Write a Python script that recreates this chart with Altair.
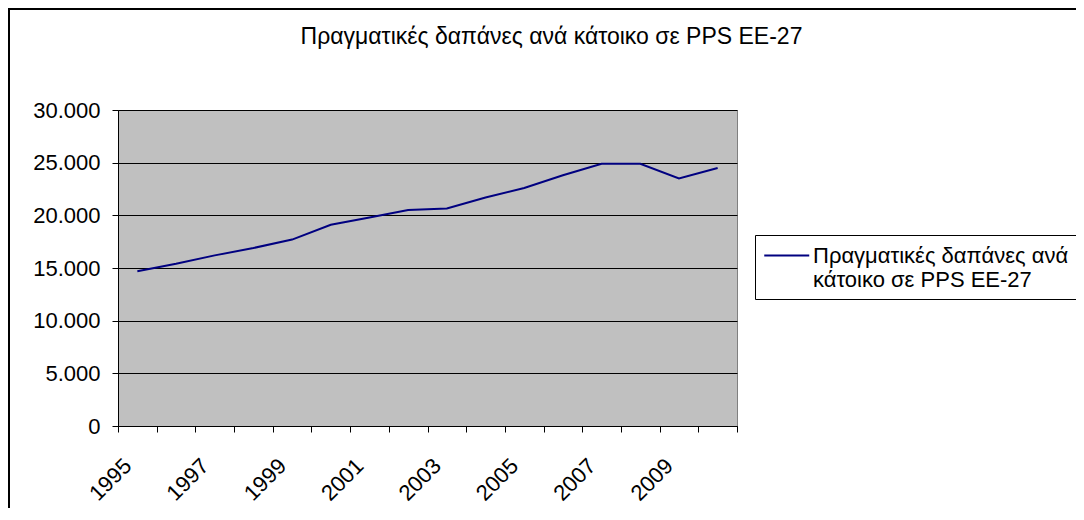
import altair as alt
import pandas as pd
import json

# ---- data -----------------------------------------------------------
YEARS = [1995, 1996, 1997, 1998, 1999, 2000, 2001, 2002,
         2003, 2004, 2005, 2006, 2007, 2008, 2009, 2010]
VALUES = [14700, 15400, 16200, 16900, 17700, 19100, 19800, 20500,
          20650, 21700, 22600, 23800, 24900, 24900, 23500, 24500]
SERIES_NAME = "Πραγματικές δαπάνες ανά κάτοικο σε PPS ΕΕ-27"
LEGEND_LINES = ["Πραγματικές δαπάνες ανά", "κάτοικο σε PPS ΕΕ-27"]
TITLE = "Πραγματικές δαπάνες ανά κάτοικο σε PPS ΕΕ-27"
Y_TICKS = [0, 5000, 10000, 15000, 20000, 25000, 30000]

df = pd.DataFrame({"year": YEARS, "value": VALUES, "series": SERIES_NAME})

# category boundaries (Excel puts ticks between categories)
bounds = [y - 0.5 for y in YEARS] + [YEARS[-1] + 0.5]

FONT = "Liberation Sans"
W, H = 619, 316
step = W / len(YEARS)

x_enc = alt.X(
    "year:Q",
    scale=alt.Scale(domain=[bounds[0], bounds[-1]], nice=False, zero=False),
    axis=alt.Axis(
        values=bounds,
        title=None,
        grid=False,
        tickSize=6,
        labelAngle=-45,
        labelAlign="right",
        labelBaseline="middle",
        labelPadding=30,
        labelOffset=step / 2 - 10,
        labelOverlap=False,
        labelFontSize=22,
        labelFont=FONT,
        labelColor="#000000",
        labelExpr=f"((datum.value + 0.5) % 2 == 1 && datum.value < {YEARS[-1]}) ? format(datum.value + 0.5, 'd') : ''",
    ),
)

y_enc = alt.Y(
    "value:Q",
    scale=alt.Scale(domain=[0, 30000], nice=False),
    axis=alt.Axis(
        values=Y_TICKS,
        title=None,
        tickSize=6,
        labelPadding=12,
        labelFontSize=22,
        labelFont=FONT,
        labelColor="#000000",
        gridColor="#000000",
        gridWidth=1,
        labelExpr="replace(format(datum.value, ','), ',', '.')",
    ),
)

line = alt.Chart(df).mark_line(strokeWidth=2).encode(
    x=x_enc,
    y=y_enc,
    color=alt.Color(
        "series:N",
        scale=alt.Scale(range=["#000080"]),
        legend=alt.Legend(
            title=None,
            orient="none",
            legendX=637,
            legendY=125,
            symbolType="M-1,0H3",
            symbolSize=506,
            symbolStrokeWidth=2,
            symbolFillColor="transparent",
            labelFontSize=22,
            labelFont=FONT,
            labelColor="#000000",
            labelBaseline="middle",
            labelLimit=1000,
            labelOffset=25,
            padding=8,
            strokeColor="#000000",
            fillColor="#ffffff",
            labelExpr=json.dumps(LEGEND_LINES, ensure_ascii=False),
        ),
    ),
)

frame = alt.Chart(df).mark_rect(
    fillOpacity=0, stroke="#000000", strokeWidth=2
).encode(
    x=alt.value(-109), x2=alt.value(2000),
    y=alt.value(-101), y2=alt.value(2000),
)

chart = alt.layer(line, frame).properties(
    width=W,
    height=H,
    title=alt.TitleParams(
        text=TITLE,
        font=FONT,
        fontSize=23,
        fontWeight="normal",
        color="#000000",
        anchor="middle",
        baseline="alphabetic",
        dx=124,
        dy=59,
        offset=0,
    ),
    autosize=alt.AutoSizeParams(type="none"),
    padding={"left": 110, "top": 102, "right": 339, "bottom": 82},
).configure(
    background="#ffffff"
).configure_view(
    fill="#C0C0C0", stroke="#808080", strokeWidth=1
).configure_axis(
    domainColor="#000000", tickColor="#000000", domainWidth=1
)

chart.save("out.html", embed_options={"renderer": "svg", "actions": False})
